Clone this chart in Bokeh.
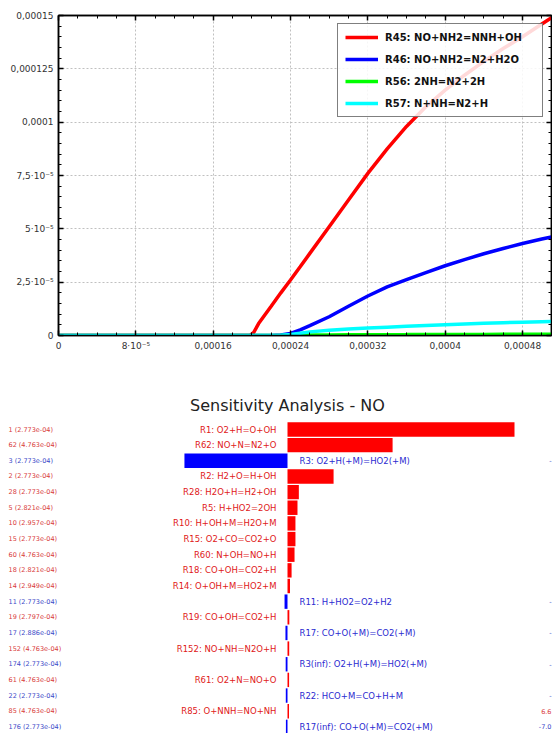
from bokeh.plotting import figure
from bokeh.layouts import column
from bokeh.models import (Range1d, FixedTicker, CustomJSTickFormatter, LinearAxis,
                          Legend, LegendItem, ColumnDataSource)
from bokeh.core.properties import value
from bokeh.embed import file_html
from bokeh.resources import INLINE

# ---------------- data: top chart (reaction rates vs time) ----------------
time_s = [0, 1.0e-4, 1.9e-4, 1.98e-4, 2.02e-4, 2.07e-4, 2.2e-4, 2.3e-4, 2.4e-4, 2.5e-4,
          2.6e-4, 2.8e-4, 3.0e-4, 3.2e-4, 3.4e-4, 3.6e-4, 3.8e-4, 4.0e-4, 4.2e-4, 4.4e-4,
          4.6e-4, 4.8e-4, 5.0e-4, 5.1e-4]
r45 = [0, 0, 0, 0, 0.15e-5, 0.56e-5, 1.37e-5, 2.0e-5, 2.6e-5, 3.22e-5,
       3.85e-5, 5.1e-5, 6.35e-5, 7.6e-5, 8.75e-5, 9.8e-5, 1.072e-4, 1.15e-4, 1.22e-4, 1.285e-4,
       1.345e-4, 1.40e-4, 1.46e-4, 1.49e-4]
r46 = [0, 0, 0, 0, 0, 0, 0, 0.02e-5, 0.1e-5, 0.26e-5,
       0.46e-5, 0.88e-5, 1.37e-5, 1.85e-5, 2.28e-5, 2.62e-5, 2.95e-5, 3.27e-5, 3.56e-5, 3.83e-5,
       4.08e-5, 4.31e-5, 4.52e-5, 4.62e-5]
r56 = [0, 0, 0, 0, 0, 0, 0, 0, 0.01e-5, 0.015e-5,
       0.02e-5, 0.025e-5, 0.03e-5, 0.035e-5, 0.04e-5, 0.042e-5, 0.045e-5, 0.048e-5, 0.05e-5, 0.052e-5,
       0.054e-5, 0.056e-5, 0.058e-5, 0.06e-5]
r57 = [0, 0, 0, 0, 0, 0, 0, 0.01e-5, 0.05e-5, 0.11e-5,
       0.17e-5, 0.25e-5, 0.305e-5, 0.35e-5, 0.39e-5, 0.43e-5, 0.47e-5, 0.505e-5, 0.54e-5, 0.57e-5,
       0.6e-5, 0.625e-5, 0.65e-5, 0.66e-5]
series_names = ["R45: NO+NH2=NNH+OH", "R46: NO+NH2=N2+H2O", "R56: 2NH=N2+2H", "R57: N+NH=N2+H"]
series_colors = ["#ff0000", "#0000ff", "#00ff00", "#00ffff"]

x_ticks = [0, 8e-5, 1.6e-4, 2.4e-4, 3.2e-4, 4.0e-4, 4.8e-4]
x_tick_labels = ["0", "8·10⁻⁵", "0,00016", "0,00024", "0,00032", "0,0004", "0,00048"]
y_ticks = [0, 2.5e-5, 5e-5, 7.5e-5, 1e-4, 1.25e-4, 1.5e-4]
y_tick_labels = ["0", "2,5·10⁻⁵", "5·10⁻⁵", "7,5·10⁻⁵", "0,0001", "0,000125", "0,00015"]

# ---------------- data: sensitivity analysis ----------------
sens_title = "Sensitivity Analysis - NO"
reactions = ["R1: O2+H=O+OH", "R62: NO+N=N2+O", "R3: O2+H(+M)=HO2(+M)", "R2: H2+O=H+OH",
             "R28: H2O+H=H2+OH", "R5: H+HO2=2OH", "R10: H+OH+M=H2O+M", "R15: O2+CO=CO2+O",
             "R60: N+OH=NO+H", "R18: CO+OH=CO2+H", "R14: O+OH+M=HO2+M", "R11: H+HO2=O2+H2",
             "R19: CO+OH=CO2+H", "R17: CO+O(+M)=CO2(+M)", "R152: NO+NH=N2O+H",
             "R3(inf): O2+H(+M)=HO2(+M)", "R61: O2+N=NO+O", "R22: HCO+M=CO+H+M",
             "R85: O+NNH=NO+NH", "R17(inf): CO+O(+M)=CO2(+M)"]
row_tags = ["1 (2.773e-04)", "62 (4.763e-04)", "3 (2.773e-04)", "2 (2.773e-04)",
            "28 (2.773e-04)", "5 (2.821e-04)", "10 (2.957e-04)", "15 (2.773e-04)",
            "60 (4.763e-04)", "18 (2.821e-04)", "14 (2.949e-04)", "11 (2.773e-04)",
            "19 (2.797e-04)", "17 (2.886e-04)", "152 (4.763e-04)", "174 (2.773e-04)",
            "61 (4.763e-04)", "22 (2.773e-04)", "85 (4.763e-04)", "176 (2.773e-04)"]
sensitivity = [1.0, 0.463, -0.454, 0.203, 0.050, 0.044, 0.035, 0.035, 0.031, 0.018,
               0.011, -0.013, 0.008, -0.009, 0.0075, -0.008, 0.007, -0.0075, 0.0066, -0.0070]
# value texts at the right edge, as far as they are visible in the original
edge_texts = ["", "", "-", "", "", "", "", "", "", "", "", "-", "", "-", "", "-", "", "-", "6.6", "-7.0"]

FONT = "DejaVu Sans"
W = 552

def no_align(p):
    try:
        p.frame_align = False
    except Exception:
        pass

# ================= top figure =================
top = figure(width=W, height=358, output_backend="svg", toolbar_location=None,
             x_range=Range1d(0, 5.1e-4), y_range=Range1d(0, 1.5e-4),
             min_border_left=58, min_border_right=1, min_border_top=15, min_border_bottom=23,
             background_fill_color="white", border_fill_color="white")
no_align(top)
top.outline_line_color = "black"
top.outline_line_width = 1.5

def fmt(vals, labs):
    return CustomJSTickFormatter(args=dict(vals=vals, labs=labs), code="""
        for (let i = 0; i < vals.length; i++) {
            if (Math.abs(tick - vals[i]) < 1e-12) return labs[i];
        }
        return '';
    """)

x_minor = [i * 2e-5 for i in range(0, 26)]
y_minor = [i * 5e-6 for i in range(0, 31)]
xt = FixedTicker(ticks=x_ticks, minor_ticks=x_minor)
yt = FixedTicker(ticks=y_ticks, minor_ticks=y_minor)

def style_axis(ax, show_labels=True):
    ax.axis_line_color = "black"
    ax.axis_line_width = 1.5
    ax.major_tick_in = 5
    ax.major_tick_out = 0
    ax.minor_tick_in = 3
    ax.minor_tick_out = 0
    ax.major_tick_line_color = "black"
    ax.minor_tick_line_color = "black"
    ax.major_tick_line_width = 1.5
    ax.minor_tick_line_width = 1
    ax.major_label_text_font = FONT
    ax.major_label_text_font_size = "9px" if show_labels else "0px"
    ax.major_label_text_color = "#333333"
    ax.major_label_standoff = 5 if show_labels else 0

top.xaxis.ticker = xt
top.yaxis.ticker = yt
top.xaxis.formatter = fmt(x_ticks, x_tick_labels)
top.yaxis.formatter = fmt(y_ticks, y_tick_labels)
style_axis(top.xaxis[0])
style_axis(top.yaxis[0])

ax_top = LinearAxis(ticker=xt, formatter=fmt([], []))
style_axis(ax_top, False)
top.add_layout(ax_top, "above")
ax_right = LinearAxis(ticker=yt, formatter=fmt([], []))
style_axis(ax_right, False)
top.add_layout(ax_right, "right")

top.xgrid.ticker = xt
top.ygrid.ticker = yt
for g in (top.xgrid[0], top.ygrid[0]):
    g.grid_line_color = "#c0c0c0"
    g.grid_line_dash = "2 2"
    g.grid_line_width = 1

items = []
for ys, name, col in zip([r45, r46, r56, r57], series_names, series_colors):
    r = top.line(time_s, ys, line_color=col, line_width=3.5)
    items.append(LegendItem(label=name, renderers=[r]))

legend = Legend(items=items, location="top_right")
legend.margin = 8
legend.padding = 7
legend.spacing = 10
legend.glyph_width = 33
legend.glyph_height = 12
legend.label_height = 12
legend.label_width = 150
legend.label_standoff = 7
legend.label_text_font = FONT
legend.label_text_font_style = "bold"
legend.label_text_font_size = "10px"
legend.label_text_color = "#111111"
legend.border_line_color = "black"
legend.border_line_width = 1
legend.background_fill_color = "white"
legend.background_fill_alpha = 0.85
top.add_layout(legend)

# ================= bottom figure =================
bot_h = 375
row0_px = 429 - 358
spacing = 15.65
zero_px = 287
unit_px = 227
x_start = -zero_px / unit_px
x_end = (W - zero_px) / unit_px
bot = figure(width=W, height=bot_h, output_backend="svg", toolbar_location=None,
             x_range=Range1d(x_start, x_end),
             y_range=Range1d(-(bot_h - row0_px) / spacing, row0_px / spacing),
             min_border=0, background_fill_color="white", border_fill_color="white")
no_align(bot)
bot.axis.visible = False
bot.grid.visible = False
bot.outline_line_color = None

n = len(reactions)
ypos = [-i for i in range(n)]
pos = [i for i in range(n) if sensitivity[i] >= 0]
neg = [i for i in range(n) if sensitivity[i] < 0]
RED, BLUE = "#ff0000", "#0000ff"
RED_T, BLUE_T = "#e01818", "#2a2ad0"
RED_S, BLUE_S = "#d83a3a", "#3a48c8"

def sub(idx):
    return ColumnDataSource(dict(
        y=[ypos[i] for i in idx], v=[sensitivity[i] for i in idx],
        name=[reactions[i] for i in idx], tag=[row_tags[i] for i in idx],
        zero=[0] * len(idx), xl=[x_start] * len(idx),
        edge=[edge_texts[i] for i in idx], xr=[x_end] * len(idx)))

src_p, src_n = sub(pos), sub(neg)
bot.hbar(y="y", left="zero", right="v", height=0.92, source=src_p, fill_color=RED, line_color=None)
bot.hbar(y="y", left="zero", right="v", height=0.92, source=src_n, fill_color=BLUE, line_color=None)

bot.text(x="zero", y="y", text="name", source=src_p, x_offset=-11, text_align="right",
         text_baseline="middle", text_font=value(FONT), text_font_size="8.5px", text_color=RED_T)
bot.text(x="zero", y="y", text="name", source=src_n, x_offset=12, text_align="left",
         text_baseline="middle", text_font=value(FONT), text_font_size="8.5px", text_color=BLUE_T)

for src, c in ((src_p, RED_S), (src_n, BLUE_S)):
    bot.text(x="xl", y="y", text="tag", source=src, x_offset=8, text_align="left",
             text_baseline="middle", text_font=value(FONT), text_font_size="6.5px", text_color=c)
    bot.text(x="xr", y="y", text="edge", source=src, x_offset=-1, text_align="right",
             text_baseline="middle", text_font=value(FONT), text_font_size="6.5px", text_color=c)

bot.text(x=[0], y=[(429 - 405) / spacing], text=[sens_title], text_align="center",
         text_baseline="middle", text_font=value(FONT), text_font_size="16px", text_color="#222222")

layout = column(top, bot, spacing=0)
open("out.html", "w").write(file_html(layout, INLINE))
